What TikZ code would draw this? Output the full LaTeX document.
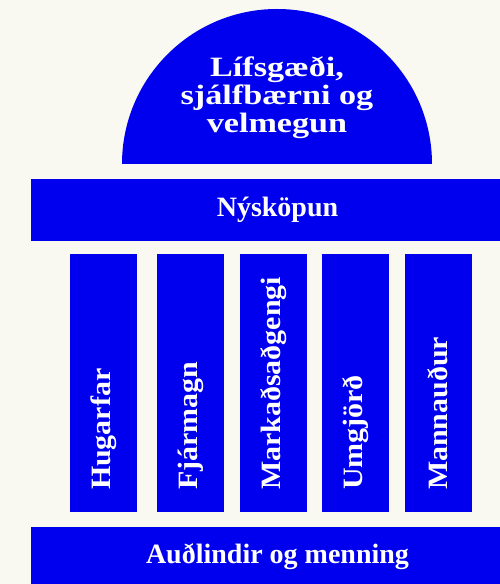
\documentclass[tikz,border=0pt]{standalone}
\usepackage{fontspec}
\setmainfont{Liberation Serif}
\newfontfamily\pilfont[FakeStretch=1.07]{Liberation Serif}
\newfontfamily\domefont[FakeStretch=1.22]{Liberation Serif}
\usepackage{tikz}
\usetikzlibrary{positioning}
\definecolor{pblue}{RGB}{0,0,238}
\definecolor{cream}{RGB}{249,248,241}
\tikzset{
bar/.style={
  rectangle,
  inner sep=0pt,
  minimum width=493pt,
  minimum height=62pt,
  fill=pblue,
  text=white,
  font=\fontsize{28}{31}\selectfont\bfseries
  },
pil/.style={
  rectangle,
  inner sep=0pt,
  minimum width=67pt,
  minimum height=258pt,
  fill=pblue
  },
lbl/.style={
  rotate=90,
  anchor=west,
  inner sep=0pt,
  text=white,
  font=\pilfont\fontsize{28}{31}\selectfont\bfseries
  }
}
\begin{document}
\begin{tikzpicture}[x=1pt,y=1pt]
            \fill[cream] (0,0) rectangle (500,584);
            \clip (0,0) rectangle (500,584);
            % dome
            \fill[pblue] (122,420) arc (180:0:155) -- cycle;
            \node[align=center,text=white,font=\domefont\fontsize{28}{28}\selectfont\bfseries] (top) at (277,486) {Lífsgæði,\\sjálfbærni og\\velmegun};
            \node[bar] (nys) at (277.5,374) {Nýsköpun};
            \node[pil] (hug) at (103.5,201) {};
            \node[pil] (fja) [right=20pt of hug] {};
            \node[pil] (mar) [right=15pt of fja] {};
            \node[pil] (umg) [right=15pt of mar] {};
            \node[pil] (man) [right=15pt of umg] {};
            \node[lbl] (thug) at ([yshift=22pt]hug.south) {Hugarfar};
            \node[lbl] (tfja) at ([yshift=22pt]fja.south) {Fjármagn};
            \node[lbl] (tmar) at ([yshift=22pt]mar.south) {Markaðsaðgengi};
            \node[lbl] (tumg) at ([yshift=22pt]umg.south) {Umgjörð};
            \node[lbl] (tman) at ([yshift=22pt]man.south) {Mannauður};
            \node[bar,minimum height=60pt] (aud) at (277.5,27) {Auðlindir og menning};
        \end{tikzpicture}
\end{document}
